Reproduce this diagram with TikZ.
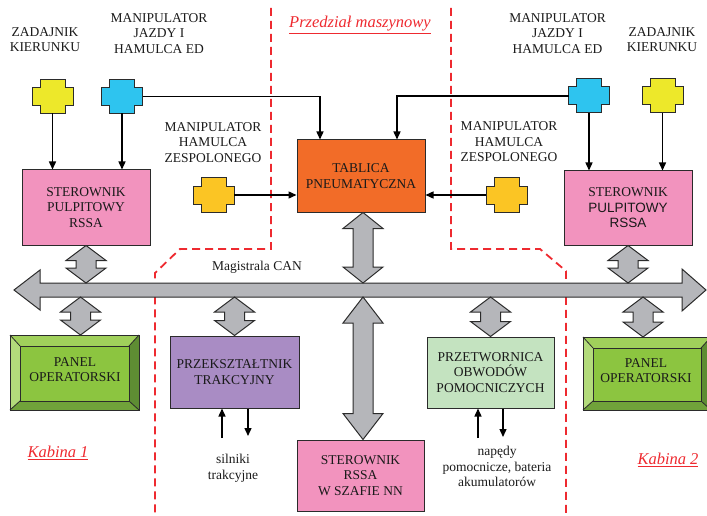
\documentclass[tikz,border=0pt]{standalone}
\usepackage{fontspec}
\setmainfont{Liberation Serif}
\newfontfamily\arialf{Liberation Sans}
\usetikzlibrary{arrows.meta,calc}
\definecolor{txt}{HTML}{1A1A1A}
\definecolor{edge}{HTML}{2B2B2B}
\definecolor{cyel}{HTML}{EDE82A}
\definecolor{cblue}{HTML}{2EC4EF}
\definecolor{corg}{HTML}{FBC524}
\definecolor{cpink}{HTML}{F293BE}
\definecolor{ctab}{HTML}{F26C28}
\definecolor{cpur}{HTML}{A98CC4}
\definecolor{cltg}{HTML}{C4E3C0}
\definecolor{cgray}{HTML}{B5B6BA}
\definecolor{cred}{HTML}{EE2A30}
\definecolor{gmain}{HTML}{8CC540}
\definecolor{gtop}{HTML}{A0D05B}
\definecolor{gleft}{HTML}{B3DB7B}
\definecolor{gbot}{HTML}{70A23A}
\definecolor{gright}{HTML}{5E8D33}
\newcommand\mycross[3]{%
  \node[crossbox] (#1) at (#2) {};
  \draw[edge, line width=1pt, fill=#3] ($(#1.north west)+(8,0)$) -- ++(25,0) -- ++(0,8) -- ++(8,0) -- ++(0,18) -- ++(-8,0) -- ++(0,8) -- ++(-25,0) -- ++(0,-8) -- ++(-8,0) -- ++(0,-18) -- ++(8,0) -- cycle;
}
\newcommand\fatv[5]{%
  \draw[fat] let \p1=#1, \p2=#2 in
    (\x1,\y1) -- (\x1+#4,\y1-#5) -- (\x1+#3,\y1-#5) -- (\x1+#3,\y2+#5) -- (\x1+#4,\y2+#5) -- (\x1,\y2)
    -- (\x1-#4,\y2+#5) -- (\x1-#3,\y2+#5) -- (\x1-#3,\y1-#5) -- (\x1-#4,\y1-#5) -- cycle;
}
\newcommand\bevelpanel[1]{%
  \fill[gtop] (#1.north west) -- (#1.north east) -- ($(#1.north east)+(-10,11)$) -- ($(#1.north west)+(10,11)$) -- cycle;
  \fill[gleft] (#1.north west) -- ($(#1.north west)+(10,11)$) -- ($(#1.south west)+(10,-9)$) -- (#1.south west) -- cycle;
  \fill[gbot] (#1.south west) -- ($(#1.south west)+(10,-9)$) -- ($(#1.south east)+(-10,-9)$) -- (#1.south east) -- cycle;
  \fill[gright] (#1.north east) -- ($(#1.north east)+(-10,11)$) -- ($(#1.south east)+(-10,-9)$) -- (#1.south east) -- cycle;
  \draw[edge, line width=1pt] (#1.north west) rectangle (#1.south east);
  \draw[edge, line width=1pt] ($(#1.north west)+(10,11)$) rectangle ($(#1.south east)+(-10,-9)$);
  \draw[edge, line width=0.8pt] (#1.north west) -- ($(#1.north west)+(10,11)$)
     (#1.north east) -- ($(#1.north east)+(-10,11)$)
     (#1.south west) -- ($(#1.south west)+(10,-9)$)
     (#1.south east) -- ($(#1.south east)+(-10,-9)$);
}
\begin{document}
\begin{tikzpicture}[x=1pt,y=-1pt,
  every node/.style={font=\fontsize{13.5}{15.5}\selectfont, text=txt},
  lbl/.style={align=center, inner sep=0pt},
  box/.style={draw=edge, line width=1pt, inner sep=0pt, align=center},
  crossbox/.style={minimum width=41pt, minimum height=34pt, inner sep=0pt, outer sep=0pt},
  panel/.style={inner sep=0pt, outer sep=0pt, align=center, fill=gmain},
  fat/.style={draw=edge, line width=1pt, fill=cgray, line join=miter},
  conn/.style={draw=black, line width=1.4pt, -{Triangle[length=8pt,width=7pt]}},
  reddash/.style={draw=cred, line width=1.8pt, dash pattern=on 8pt off 5pt},
  redtxt/.style={text=cred, font=\fontsize{16.5}{18}\selectfont\itshape, inner sep=0pt}]
\useasboundingbox (0,0) rectangle (707,516);

% compartments
\draw[reddash] (271,8) -- (271,249) -- (180,249) -- (155,273) -- (155,516);
\draw[reddash] (451,8) -- (451,249) -- (540,249) -- (566,271) -- (566,516);
\node[redtxt] (przedzial) at (360,25) {\underline{Przedział maszynowy}};
\node[redtxt] (kab1) at (58,453) {\underline{Kabina 1}};
\node[redtxt] (kab2) at (668,460) {\underline{Kabina 2}};

% labels
\node[lbl] (lzad) at (45,39.5) {ZADAJNIK\\KIERUNKU};
\node[lbl] (lmj) at (159,33.5) {MANIPULATOR\\JAZDY I\\HAMULCA ED};
\node[lbl] (lmh) at (213,142.5) {MANIPULATOR\\HAMULCA\\ZESPOLONEGO};
\node[lbl] (rmj) at (557.5,33.5) {MANIPULATOR\\JAZDY I\\HAMULCA ED};
\node[lbl] (rzad) at (662,39.5) {ZADAJNIK\\KIERUNKU};
\node[lbl] (rmh) at (509,142) {MANIPULATOR\\HAMULCA\\ZESPOLONEGO};

% crosses
\mycross{yL}{52.5,96.5}{cyel}
\mycross{bL}{122,96.5}{cblue}
\mycross{oL}{213.5,195}{corg}
\mycross{oR}{506.5,195}{corg}
\mycross{bR}{589,96}{cblue}
\mycross{yR}{662.5,96}{cyel}

% boxes
\node[box, fill=cpink, minimum width=128pt, minimum height=75pt] (pinkL) at (86,207.5) {STEROWNIK\\PULPITOWY\\RSSA};
\node[box, fill=cpink, minimum width=128pt, minimum height=74pt] (pinkR) at (628,208) {STEROWNIK\\{\arialf PULPITOWY}\\{\arialf RSSA}};
\node[box, fill=ctab, minimum width=128pt, minimum height=72pt] (tab) at (361,176) {TABLICA\\PNEUMATYCZNA};
\node[box, fill=cpur, minimum width=129pt, minimum height=72pt] (pur) at (234.5,372) {PRZEKSZTAŁTNIK\\TRAKCYJNY};
\node[box, fill=cltg, minimum width=127pt, minimum height=71pt] (ltg) at (490.5,372.5) {PRZETWORNICA\\OBWODÓW\\POMOCNICZYCH};
\node[box, fill=cpink, minimum width=127pt, minimum height=71pt] (ster) at (360.5,475.5) {STEROWNIK\\RSSA\\W SZAFIE NN};
\node[panel, minimum width=129pt, minimum height=75pt] (panelL) at (74.5,372.5) {};
\bevelpanel{panelL}
\node[lbl] (panelLt) at (75,369.5) {PANEL\\OPERATORSKI};
\node[panel, minimum width=128pt, minimum height=73pt] (panelR) at (647,373.5) {};
\bevelpanel{panelR}
\node[lbl] (panelRt) at (646,370.5) {PANEL\\OPERATORSKI};

% CAN bus
\coordinate (busT) at (0,283);
\coordinate (busB) at (0,297);
\draw[fat] (14,290) -- (40,270) -- (40,283) -- (682,283) -- (682,269) -- (706,290) -- (682,311) -- (682,297) -- (40,297) -- (40,310) -- cycle;
\node[lbl] (can) at (257,267) {Magistrala CAN};

% gray bus connections
\coordinate (pL) at ($(panelL.north)+(6,0)$);
\coordinate (pR) at ($(panelR.north)+(-4,0)$);
\coordinate (tabX) at ($(tab.south)+(2,0)$);
\fatv{(pinkL.south)}{(pinkL.south |- busT)}{10pt}{20pt}{15pt}
\fatv{(pL |- busB)}{(pL)}{10pt}{20pt}{15pt}
\fatv{(pur.north |- busB)}{(pur.north)}{10pt}{20pt}{15pt}
\fatv{(tabX)}{(tabX |- busT)}{10pt}{20pt}{16pt}
\fatv{(tabX |- busB)}{(tabX |- ster.north)}{10pt}{20pt}{26pt}
\fatv{(ltg.north |- busB)}{(ltg.north)}{10pt}{20pt}{15pt}
\fatv{(pinkR.south)}{(pinkR.south |- busT)}{10pt}{20pt}{15pt}
\fatv{(pR |- busB)}{(pR)}{10pt}{20pt}{15pt}

% black connectors
\coordinate (tabT1) at ($(tab.north)+(-41,0)$);
\coordinate (tabT2) at ($(tab.north)+(36,0)$);
\draw[conn] (yL.south) -- (yL.south |- pinkL.north);
\draw[conn] (bL.south) -- (bL.south |- pinkL.north);
\draw[conn] (bL.east) -| (tabT1);
\draw[conn] (bR.west) -| (tabT2);
\draw[conn] (oL.east) -- (oL.east -| tab.west);
\draw[conn] (oR.west) -- (oR.west -| tab.east);
\draw[conn] (bR.south) -- (bR.south |- pinkR.north);
\draw[conn] (yR.south) -- (yR.south |- pinkR.north);

\coordinate (s1) at (222,438);
\coordinate (s2) at (248,436);
\coordinate (n1) at (478,438);
\coordinate (n2) at (503,437);
\draw[conn] (s1) -- (s1 |- pur.south);
\draw[conn] (s2 |- pur.south) -- (s2);
\draw[conn] (n1) -- (n1 |- ltg.south);
\draw[conn] (n2 |- ltg.south) -- (n2);
\node[lbl] (silniki) at (233,468.5) {silniki\\trakcyjne};
\node[lbl] (napedy) at (497,466.5) {napędy\\pomocnicze, bateria\\akumulatorów};
\end{tikzpicture}
\end{document}
